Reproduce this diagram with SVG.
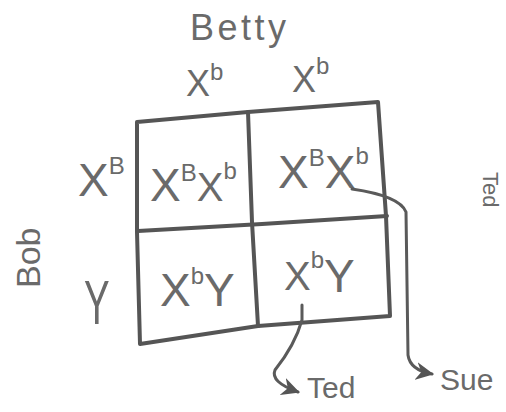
<svg xmlns="http://www.w3.org/2000/svg" width="506" height="412" viewBox="0 0 506 412">
  <style>
    .hand { font-family: "Liberation Sans", "DejaVu Sans", sans-serif; fill: #6a6a6a; }
    .big { font-size: 46px; }
    .sup { font-size: 24px; }
    .grid { fill: none; stroke: #555; stroke-width: 4; stroke-linecap: round; stroke-linejoin: round; }
    .wire { fill: none; stroke: #5a5a5a; stroke-width: 3; stroke-linecap: round; }
  </style>
  <defs>
    <marker id="arrow" viewBox="0 0 10 10" refX="9" refY="5" markerWidth="6" markerHeight="6" orient="auto">
      <path d="M0,0 L10,5 L0,10 L3,5 Z" fill="#555"/>
    </marker>
  </defs>
  <rect width="506" height="412" fill="#fff"/>

  <!-- parent labels -->
  <g id="betty">
    <text class="hand" x="190" y="40" font-size="36" textLength="96">Betty</text>
  </g>
  <g id="bob">
    <text class="hand" x="40" y="288" font-size="34" transform="rotate(-90 40 288)">Bob</text>
  </g>
  <g id="ted-side">
    <text class="hand" x="483" y="172" font-size="22" transform="rotate(90 483 172)">Ted</text>
  </g>

  <!-- gametes -->
  <g id="allele-top-1">
    <text class="hand" x="186" y="96" font-size="36">X<tspan class="sup" dy="-16">b</tspan></text>
  </g>
  <g id="allele-top-2">
    <text class="hand" x="292" y="92" font-size="36">X<tspan class="sup" dy="-18">b</tspan></text>
  </g>
  <g id="allele-left-1">
    <text class="hand" x="78" y="196" font-size="46">X<tspan class="sup" dy="-22">B</tspan></text>
  </g>
  <g id="allele-left-2">
    <text class="hand" x="84" y="324" font-size="48" transform="translate(84 324) scale(0.8 1.3) translate(-84 -324)">Y</text>
  </g>

  <!-- Punnett grid -->
  <g id="grid">
    <path class="grid" d="M137,122 L248,112 L378,102 L386,216 L390,316 L258,326 L140,344 L137,232 Z"/>
    <path class="grid" d="M138,231 L262,224 L387,216"/>
    <path class="grid" d="M248,112 L252,222 L258,326"/>
  </g>

  <!-- offspring cells -->
  <g id="cell-1">
    <text class="hand big" x="150" y="201">X<tspan class="sup" dy="-20">B</tspan><tspan font-size="40" dy="20">X</tspan><tspan class="sup" dy="-22">b</tspan></text>
  </g>
  <g id="cell-2">
    <text class="hand big" x="278" y="188">X<tspan class="sup" dy="-22">B</tspan><tspan dy="22">X</tspan><tspan class="sup" dy="-24">b</tspan></text>
  </g>
  <g id="cell-3">
    <text class="hand big" x="160" y="306">X<tspan class="sup" dy="-22">b</tspan><tspan dy="22">Y</tspan></text>
  </g>
  <g id="cell-4">
    <text class="hand" font-size="40" x="284" y="290">X<tspan class="sup" dy="-22">b</tspan><tspan font-size="46" dy="24">Y</tspan></text>
  </g>

  <!-- connectors -->
  <g id="connectors">
    <path class="wire" d="M302,305 L302,320 Q295,345 275,370 Q270,382 298,392" marker-end="url(#arrow)"/>
    <path class="wire" d="M352,189 Q400,196 406,212 L408,355 Q410,370 432,374" marker-end="url(#arrow)"/>
  </g>

  <!-- outcome labels -->
  <g id="ted">
    <text class="hand" x="307" y="398" font-size="30">Ted</text>
  </g>
  <g id="sue">
    <text class="hand" x="440" y="390" font-size="30">Sue</text>
  </g>
</svg>
